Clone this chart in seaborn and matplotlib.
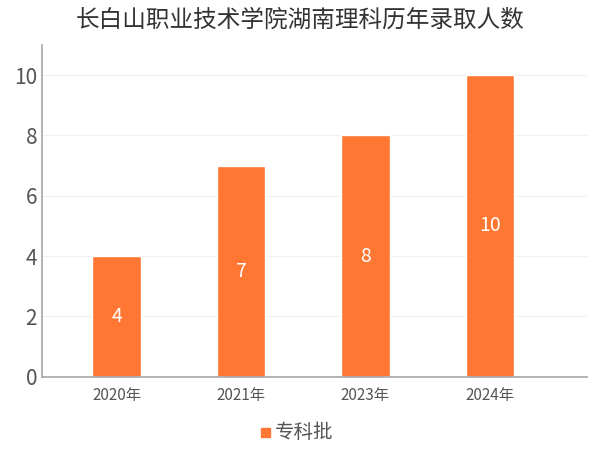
import matplotlib
matplotlib.use("Agg")
import matplotlib.pyplot as plt
import seaborn as sns
import pandas as pd

years = ["2020年", "2021年", "2023年", "2024年"]
counts = [4, 7, 8, 10]
series = "专科批"
title = "长白山职业技术学院湖南理科历年录取人数"

sns.set_theme(style="white")
plt.rcParams['font.family'] = ['Noto Sans CJK SC', 'DejaVu Sans']

df = pd.DataFrame({"year": years, "count": counts, "s": series})
fig = plt.figure(figsize=(6, 4.5), dpi=100)
ax = fig.add_axes([0.07, 0.163, 0.908, 0.737])
sns.barplot(data=df, x="year", y="count", hue="s", palette=["#FF7733"], saturation=1,
            width=0.39, ax=ax, legend=False)
for p, v in zip(ax.patches, counts):
    ax.text(p.get_x() + p.get_width() / 2, v / 2, str(v), ha="center", va="center", color="white", fontsize=14)
ax.set_xlim(-0.6, 3.78)
ax.set_ylim(0, 11)
ax.set_yticks([0, 2, 4, 6, 8, 10])
ax.tick_params(axis="y", labelsize=15, colors="#555555", length=0)
ax.tick_params(axis="x", labelsize=11, colors="#555555", length=4, color="#aaaaaa")
ax.grid(axis="y", color="#f0f0f0", linewidth=0.8)
ax.set_axisbelow(True)
ax.set_xlabel("")
ax.set_ylabel("")
for s in ["top", "right"]:
    ax.spines[s].set_visible(False)
for s in ["left", "bottom"]:
    ax.spines[s].set_color("#aaaaaa")
fig.text(0.5, 0.955, title, ha="center", va="center", fontsize=17, color="#333333")
fig.patches.append(plt.Rectangle((0.435, 0.028), 0.015, 0.02, transform=fig.transFigure, color="#FF7733"))
fig.text(0.458, 0.038, series, ha="left", va="center", fontsize=14, color="#555555")
fig.savefig("out.png", dpi=100)
